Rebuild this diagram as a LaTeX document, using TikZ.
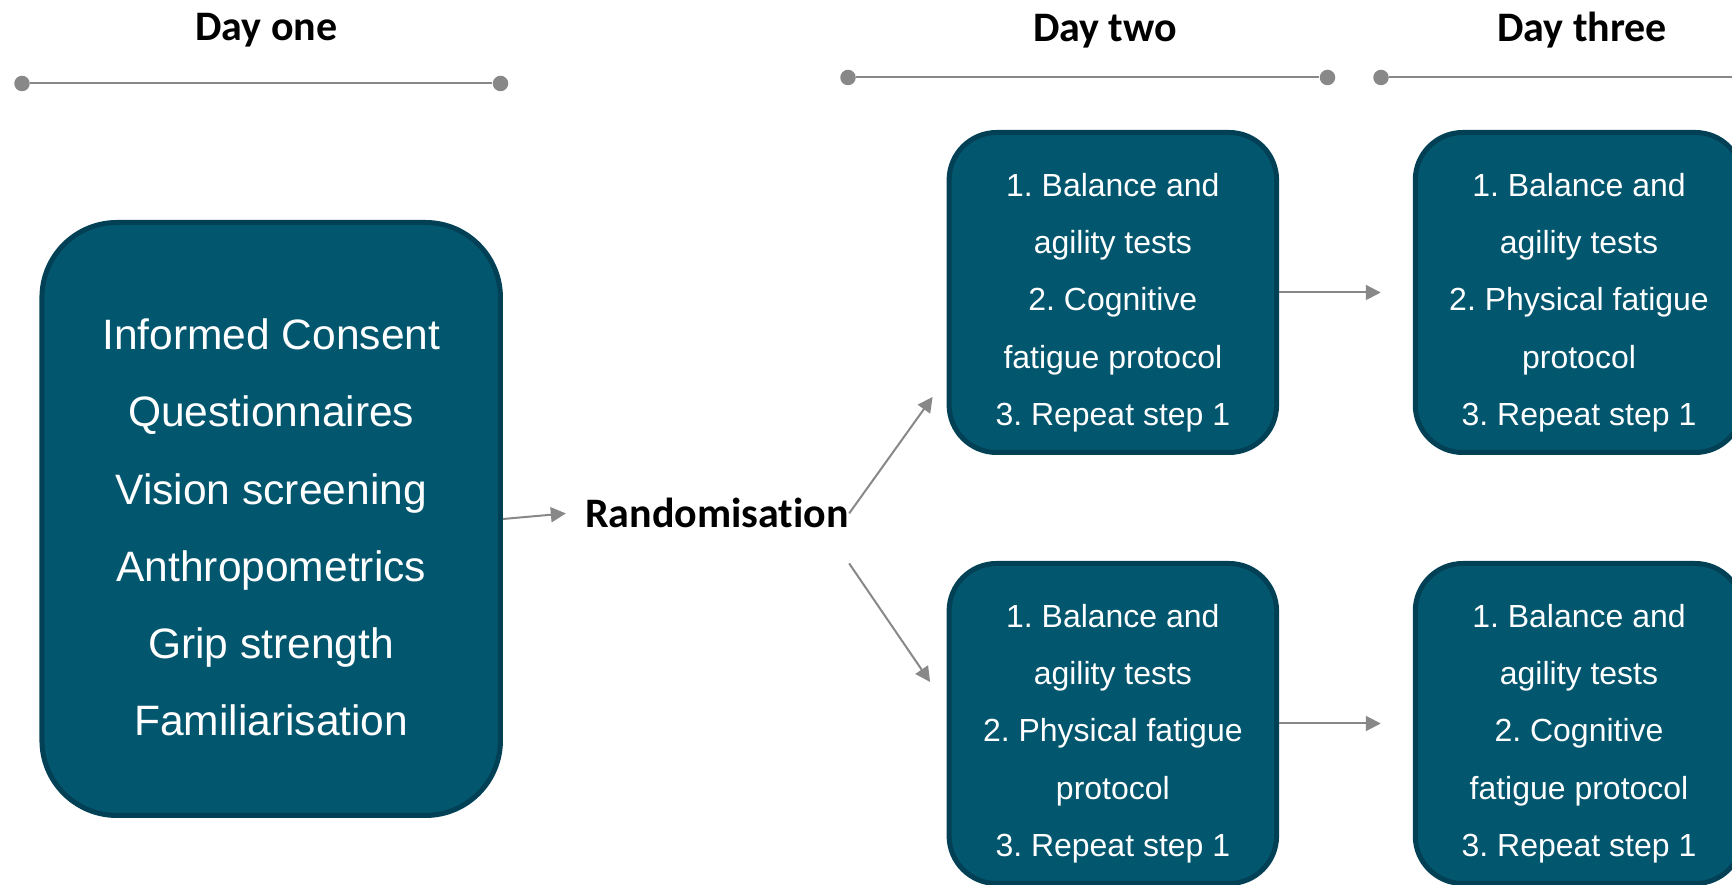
\documentclass[tikz,border=0pt]{standalone}
\usepackage{fontspec}
\setmainfont{Liberation Sans}
\newfontfamily\headfont[Ligatures=NoCommon]{Carlito}
\usetikzlibrary{arrows.meta}
\frenchspacing

\definecolor{boxfill}{RGB}{2,86,110}
\definecolor{boxline}{RGB}{2,64,86}
\definecolor{linegray}{RGB}{136,136,136}
\newcommand{\topstrut}[1]{\rule{0pt}{#1}}

\begin{document}
\begin{tikzpicture}[
        dayhead/.style = {anchor=base, font=\headfont\bfseries\fontsize{23.9}{28}\selectfont},
        daydot/.style = {circle, fill=linegray, inner sep=0pt, minimum size=0.31cm},
        dayline/.style = {draw=linegray, line width=0.04cm},
        bigbox/.style = {draw=boxline, fill=boxfill, line width=0.1cm, rounded corners=1.5cm,
            minimum width=9.17cm, minimum height=11.86cm, align=center, text=white,
            font=\fontsize{24.2}{43.9}\selectfont},
        stepbox/.style = {draw=boxline, fill=boxfill, line width=0.1cm, rounded corners=0.95cm,
            minimum width=6.55cm, minimum height=6.4cm, align=center, text=white,
            font=\fontsize{18.2}{32.7}\selectfont},
        flow/.style = {draw=linegray, line width=0.04cm, -{Triangle[length=0.3cm, width=0.3cm]}}
    ]
                \useasboundingbox (0cm,0cm) rectangle (34.64cm,17.7cm);

                \node[dayhead] (headone) at (5.33cm, 16.88cm) {Day one};
                \node[dayhead] (headtwo) at (22.1cm, 16.87cm) {Day two};
                \node[dayhead] (headthree) at (31.64cm, 16.87cm) {Day three};

                \node[daydot] (oneleft) at (0.44cm, 16.03cm) {};
                \node[daydot] (oneright) at (10.01cm, 16.03cm) {};
                \node[daydot] (twoleft) at (16.96cm, 16.15cm) {};
                \node[daydot] (tworight) at (26.55cm, 16.15cm) {};
                \node[daydot] (threeleft) at (27.62cm, 16.15cm) {};
                \coordinate (threeright) at (35cm, 16.15cm);
                \draw[dayline] (oneleft) -- (oneright);
                \draw[dayline] (twoleft) -- (tworight);
                \draw[dayline] (threeleft) -- (threeright);

                \node[bigbox] (dayone) at (5.424cm, 7.32cm) {\topstrut{27.1pt}Informed Consent\\Questionnaires\\Vision screening\\Anthropometrics\\Grip strength\\Familiarisation};
                \node[dayhead, inner sep=0pt] (rand) at (14.34cm, 7.14cm) {Randomisation};

                \node[stepbox] (twotop) at (22.257cm, 11.85cm) {\topstrut{24.8pt}1. Balance and\\agility tests\\2. Cognitive\\fatigue protocol\\3. Repeat step 1};
                \node[stepbox] (twobottom) at (22.257cm, 3.23cm) {\topstrut{24.8pt}1. Balance and\\agility tests\\2. Physical fatigue\\protocol\\3. Repeat step 1};
                \node[stepbox] (threetop) at (31.58cm, 11.85cm) {\topstrut{24.8pt}1. Balance and\\agility tests\\2. Physical fatigue\\protocol\\3. Repeat step 1};
                \node[stepbox] (threebottom) at (31.58cm, 3.23cm) {\topstrut{24.8pt}1. Balance and\\agility tests\\2. Cognitive\\fatigue protocol\\3. Repeat step 1};

                \draw[flow] (dayone.east) -- ([xshift=-0.38cm]rand.west);
                \draw[flow] (rand.east) -- ([shift={(-0.28cm,1.16cm)}]twotop.south west);
                \draw[flow] ([yshift=-1cm]rand.east) -- ([shift={(-0.33cm,0.83cm)}]twobottom.west);
                \draw[flow, shorten >=0.64cm] (twotop) -- (threetop);
                \draw[flow, shorten >=0.64cm] (twobottom) -- (threebottom);
            \end{tikzpicture}
\end{document}
